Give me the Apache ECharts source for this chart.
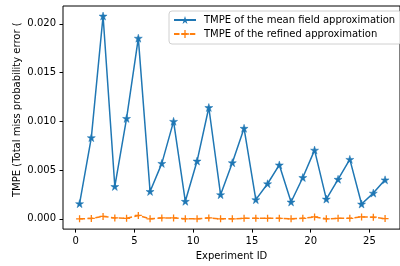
<!DOCTYPE html>
<html>
<head>
<meta charset="utf-8">
<script src="https://cdn.jsdelivr.net/npm/echarts@6/dist/echarts.min.js"></script>
<style>
  html, body { margin: 0; padding: 0; background: #fff; }
  #chart { width: 400px; height: 266px; }
</style>
</head>
<body>
<div id="chart"></div>
<script>
// 实验编号（x 轴位置）
const expIds = [0.33, 1.33, 2.33, 3.33, 4.33, 5.33, 6.33, 7.33, 8.33, 9.33,
    10.33, 11.33, 12.33, 13.33, 14.33, 15.33, 16.33, 17.33, 18.33, 19.33,
    20.33, 21.33, 22.33, 23.33, 24.33, 25.33, 26.33];
// mean field 近似误差
const meanField = [0.00156, 0.00833, 0.0208, 0.00332, 0.0103, 0.01853, 0.00281, 0.00569, 0.0100, 0.0018,
    0.00593, 0.01142, 0.00248, 0.00576, 0.00929, 0.00197, 0.0036, 0.00553, 0.00173, 0.00424,
    0.00705, 0.00203, 0.00406, 0.0061, 0.00152, 0.00264, 0.0040];
// refined 近似误差
const refined = [0.0, 0.00004, 0.00025, 0.0001, 0.00005, 0.00035, 0.0, 0.0001, 0.0001, 0.0,
    0.0, 0.0001, 0.0, 0.0, 0.00005, 0.00005, 0.00005, 0.00005, 0.0, 0.00005,
    0.0002, 0.0, 0.00005, 0.00005, 0.0002, 0.00017, 0.00003];
const xTicks = [0, 5, 10, 15, 20, 25];
const yTicks = [0, 0.005, 0.010, 0.015, 0.020];

const seriesNames = ['TMPE of the mean field approximation', 'TMPE of the refined approximation'];
const yLabel = 'TMPE (Total miss probability error (';

const font = 'DejaVu Sans';
const blue = '#1f77b4';
const orange = '#ff7f0e';
const starPath = 'path://M10,0L12.245,6.91L19.51,6.91L13.633,11.18L15.878,18.09L10,13.82L4.122,18.09L6.367,11.18L0.49,6.91L7.755,6.91Z';
const plusPath = 'path://M0,5L10,5M5,0L5,10';

const chart = echarts.init(document.getElementById('chart'));

const option = {
    backgroundColor: '#fff',
    animation: false,
    grid: {
        left: 63,
        top: 6,
        width: 345.6,
        height: 225,
        show: true,
        borderColor: '#000',
        borderWidth: 1,
        backgroundColor: 'transparent'
    },
    legend: {
        orient: 'vertical',
        left: 169,
        top: 11,
        padding: [4, 6, 5, 4],
        itemGap: 4,
        itemWidth: 22,
        itemHeight: 10,
        backgroundColor: 'rgba(255,255,255,0.8)',
        borderColor: '#d0d0d0',
        borderWidth: 1,
        borderRadius: 3,
        textStyle: {
            fontFamily: font,
            fontSize: 10,
            color: '#000',
            padding: [0, 0, 0, 3]
        },
        data: [
            { name: seriesNames[0], itemStyle: { borderWidth: 0 } },
            { name: seriesNames[1], itemStyle: { borderWidth: 1.3 } }
        ]
    },
    xAxis: {
        type: 'value',
        min: -1.08,
        max: 27.6,
        name: 'Experiment ID',
        nameLocation: 'middle',
        nameGap: 19,
        nameTextStyle: { fontFamily: font, fontSize: 10, color: '#000' },
        axisLine: { show: false, onZero: false },
        axisTick: {
            show: true,
            length: 3.5,
            customValues: xTicks,
            lineStyle: { color: '#000', width: 1 }
        },
        axisLabel: {
            customValues: xTicks,
            margin: 7,
            fontFamily: font,
            fontSize: 10,
            color: '#000'
        },
        splitLine: { show: false }
    },
    yAxis: {
        type: 'value',
        min: -0.00105,
        max: 0.02183,
        axisLine: { show: false, onZero: false },
        axisTick: {
            show: true,
            length: 3.5,
            customValues: yTicks,
            lineStyle: { color: '#000', width: 1 }
        },
        axisLabel: {
            customValues: yTicks,
            margin: 7,
            fontFamily: font,
            fontSize: 10,
            color: '#000',
            formatter: function (v) { return v.toFixed(3); }
        },
        splitLine: { show: false }
    },
    graphic: [{
        type: 'text',
        x: 17,
        y: 197,
        rotation: Math.PI / 2,
        style: {
            text: yLabel,
            fontFamily: font,
            fontSize: 10,
            fill: '#000',
            textAlign: 'left',
            textVerticalAlign: 'middle'
        }
    }],
    series: [{
        name: seriesNames[0],
        type: 'line',
        data: expIds.map((x, i) => [x, meanField[i]]),
        symbol: starPath,
        symbolSize: 8,
        showAllSymbol: true,
        lineStyle: { color: blue, width: 1.5 },
        itemStyle: { color: blue, borderColor: blue, borderWidth: 0.5 }
    }, {
        name: seriesNames[1],
        type: 'line',
        data: expIds.map((x, i) => [x, refined[i]]),
        symbol: plusPath,
        symbolSize: 7,
        showAllSymbol: true,
        lineStyle: { color: orange, width: 1.5, type: [5.5, 2.4] },
        itemStyle: { color: orange, borderColor: orange, borderWidth: 1.3 }
    }]
};

chart.setOption(option);

window.onresize = function () {
    chart.resize();
};
</script>
</body>
</html>
